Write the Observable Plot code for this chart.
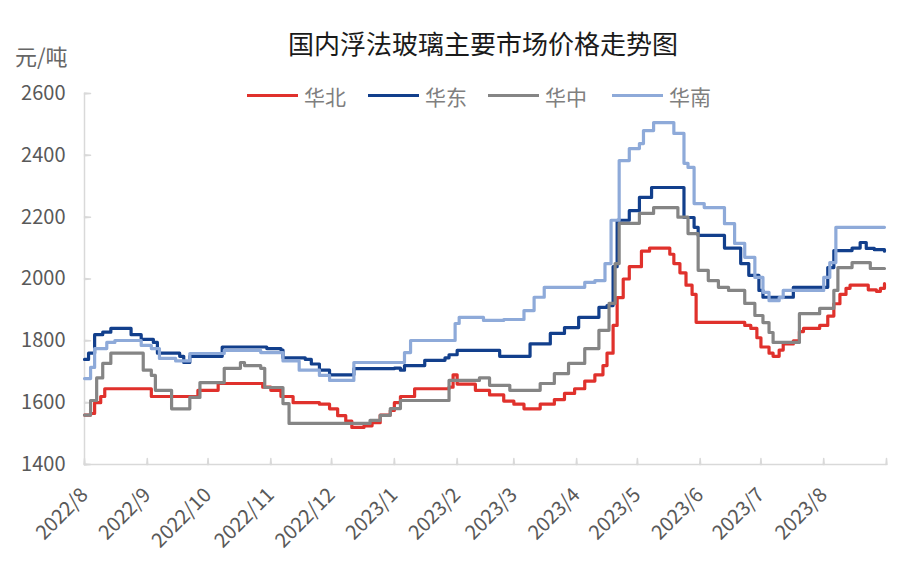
<!DOCTYPE html>
<html>
<head>
<meta charset="utf-8">
<script src="https://cdn.jsdelivr.net/npm/d3@7"></script>
<script src="https://cdn.jsdelivr.net/npm/@observablehq/plot@0.6"></script>
<style>
  html, body { margin: 0; padding: 0; background: #fff; }
  body { font-family: "Noto Sans CJK SC", "Noto Sans", sans-serif; }
  #wrap { position: relative; width: 915px; height: 567px; overflow: hidden; }
  #chart { position: absolute; left: 0; top: 0; }
  .abs { position: absolute; white-space: nowrap; line-height: 1; }
  #title { left: 288px; top: 30px; font-size: 26px; color: #1a1a1a; }
  #unit { left: 15px; top: 44px; font-size: 22px; color: #666; }
  .lg-line { position: absolute; height: 3px; top: 94px; }
  .lg-text { position: absolute; top: 86px; font-size: 21px; color: #7f7f7f; line-height: 1; }
</style>
</head>
<body>
<div id="wrap">
  <div id="chart"></div>
  <div id="title" class="abs">国内浮法玻璃主要市场价格走势图</div>
  <div id="unit" class="abs">元/吨</div>
  <div id="legend"></div>
</div>
<script>
// ---- data ----
const seriesNames = ["华北", "华东", "华中", "华南"];
const seriesColors = ["#e0312c", "#123f8c", "#858585", "#8eaad9"];

const yTicks = [1400, 1600, 1800, 2000, 2200, 2400, 2600];
const monthTicks = ["2022-08-01","2022-09-01","2022-10-01","2022-11-01","2022-12-01","2023-01-01",
  "2023-02-01","2023-03-01","2023-04-01","2023-05-01","2023-06-01","2023-07-01","2023-08-01","2023-09-01"];
const monthLabels = ["2022/8","2022/9","2022/10","2022/11","2022/12","2023/1",
  "2023/2","2023/3","2023/4","2023/5","2023/6","2023/7","2023/8",""];

const huabei = [
  ["2022-08-01",1560],["2022-08-04",1565],["2022-08-06",1600],["2022-08-09",1620],["2022-08-11",1645],
  ["2022-09-03",1620],["2022-09-26",1640],["2022-10-06",1662],["2022-10-28",1650],["2022-11-01",1640],
  ["2022-11-06",1620],["2022-11-12",1600],["2022-11-25",1595],["2022-11-30",1580],["2022-12-04",1558],
  ["2022-12-08",1540],["2022-12-11",1520],["2022-12-17",1525],["2022-12-21",1535],["2022-12-25",1560],
  ["2022-12-30",1575],["2023-01-01",1600],["2023-01-04",1620],["2023-01-11",1645],["2023-01-28",1650],
  ["2023-01-30",1690],["2023-02-01",1660],["2023-02-10",1640],["2023-02-17",1625],["2023-02-24",1605],
  ["2023-03-01",1595],["2023-03-06",1580],["2023-03-14",1595],["2023-03-21",1610],["2023-03-26",1630],
  ["2023-03-31",1645],["2023-04-05",1670],["2023-04-10",1690],["2023-04-14",1720],["2023-04-16",1760],
  ["2023-04-19",1850],["2023-04-21",1940],["2023-04-24",2000],["2023-04-27",2040],["2023-05-03",2090],
  ["2023-05-07",2100],["2023-05-17",2080],["2023-05-19",2050],["2023-05-22",2020],["2023-05-25",1980],
  ["2023-05-28",1950],["2023-05-30",1860],["2023-06-23",1850],["2023-06-26",1840],["2023-06-29",1810],
  ["2023-07-01",1780],["2023-07-05",1760],["2023-07-07",1750],["2023-07-10",1770],["2023-07-12",1790],
  ["2023-07-17",1800],["2023-07-20",1830],["2023-07-22",1840],["2023-07-30",1850],["2023-08-03",1880],
  ["2023-08-06",1920],["2023-08-09",1950],["2023-08-12",1970],["2023-08-14",1980],["2023-08-23",1965],
  ["2023-08-27",1960],["2023-08-29",1970],["2023-08-31",1985]
];

const huadong = [
  ["2022-08-01",1740],["2022-08-03",1760],["2022-08-06",1820],["2022-08-10",1828],["2022-08-14",1840],
  ["2022-08-24",1820],["2022-08-29",1805],["2022-09-04",1795],["2022-09-06",1760],["2022-09-17",1750],
  ["2022-09-19",1730],["2022-09-22",1750],["2022-10-08",1780],["2022-10-30",1775],["2022-11-06",1770],
  ["2022-11-07",1745],["2022-11-18",1740],["2022-11-21",1725],["2022-11-25",1705],["2022-11-30",1690],
  ["2022-12-12",1710],["2023-01-01",1712],["2023-01-04",1705],["2023-01-06",1720],["2023-01-16",1737],
  ["2023-01-26",1745],["2023-01-28",1755],["2023-02-01",1769],["2023-02-22",1750],["2023-03-09",1790],
  ["2023-03-19",1824],["2023-03-26",1843],["2023-04-02",1876],["2023-04-12",1908],["2023-04-16",1914],
  ["2023-04-19",2040],["2023-04-21",2190],["2023-04-27",2221],["2023-05-02",2264],["2023-05-08",2296],
  ["2023-05-24",2199],["2023-05-29",2167],["2023-05-31",2141],["2023-06-13",2100],["2023-06-21",2050],
  ["2023-06-25",2012],["2023-06-30",1963],["2023-07-02",1941],["2023-07-17",1973],["2023-08-03",2037],
  ["2023-08-06",2092],["2023-08-15",2100],["2023-08-19",2118],["2023-08-22",2099],["2023-08-26",2095],
  ["2023-08-31",2090]
];

const huazhong = [
  ["2022-08-01",1560],["2022-08-04",1607],["2022-08-07",1680],["2022-08-10",1727],["2022-08-14",1760],
  ["2022-08-30",1705],["2022-09-03",1688],["2022-09-05",1640],["2022-09-13",1580],["2022-09-22",1617],
  ["2022-09-27",1665],["2022-10-09",1711],["2022-10-17",1730],["2022-10-19",1720],["2022-10-27",1711],
  ["2022-10-29",1649],["2022-11-07",1597],["2022-11-10",1533],["2022-12-08",1533],["2022-12-20",1543],
  ["2022-12-25",1559],["2022-12-30",1581],["2023-01-04",1607],["2023-01-28",1672],["2023-02-12",1680],
  ["2023-02-17",1656],["2023-02-27",1640],["2023-03-14",1662],["2023-03-21",1694],["2023-03-28",1727],
  ["2023-04-05",1775],["2023-04-12",1834],["2023-04-17",1921],["2023-04-20",2050],["2023-04-22",2180],
  ["2023-05-02",2212],["2023-05-09",2231],["2023-05-21",2200],["2023-05-26",2147],["2023-05-31",2028],
  ["2023-06-05",1995],["2023-06-10",1973],["2023-06-15",1963],["2023-06-23",1921],["2023-06-28",1882],
  ["2023-07-02",1859],["2023-07-05",1827],["2023-07-07",1795],["2023-07-20",1888],["2023-07-30",1905],
  ["2023-08-06",1963],["2023-08-08",2037],["2023-08-15",2053],["2023-08-24",2034],["2023-08-31",2034]
];

const huanan = [
  ["2022-08-01",1678],["2022-08-04",1714],["2022-08-06",1775],["2022-08-12",1795],["2022-08-16",1801],
  ["2022-08-29",1785],["2022-09-03",1775],["2022-09-07",1743],["2022-09-15",1735],["2022-09-22",1759],
  ["2022-10-09",1769],["2022-10-27",1762],["2022-11-07",1735],["2022-11-15",1705],["2022-11-25",1688],
  ["2022-11-30",1672],["2022-12-12",1730],["2023-01-06",1762],["2023-01-09",1801],["2023-01-31",1856],
  ["2023-02-02",1876],["2023-02-14",1866],["2023-02-24",1869],["2023-03-06",1898],["2023-03-11",1941],
  ["2023-03-16",1973],["2023-04-05",1989],["2023-04-10",1995],["2023-04-15",2050],["2023-04-18",2190],
  ["2023-04-22",2383],["2023-04-27",2422],["2023-05-02",2438],["2023-05-04",2480],["2023-05-09",2506],
  ["2023-05-19",2471],["2023-05-24",2374],["2023-05-26",2361],["2023-05-29",2244],["2023-06-03",2231],
  ["2023-06-13",2179],["2023-06-18",2115],["2023-06-23",2070],["2023-06-28",2005],["2023-07-02",1957],
  ["2023-07-05",1930],["2023-07-10",1940],["2023-07-12",1963],["2023-08-01",2005],["2023-08-04",2053],
  ["2023-08-07",2167],["2023-08-31",2167]
];

const seriesData = [huabei, huadong, huazhong, huanan];

// ---- build ----
const data = seriesNames.flatMap((name, i) =>
  seriesData[i].map(([d, v]) => ({series: name, date: new Date(d), value: v})));
const tickDates = monthTicks.map(d => new Date(d));
const labelOf = new Map(monthTicks.map((d, i) => [+new Date(d), monthLabels[i]]));
const x0 = tickDates[0], x1 = tickDates[tickDates.length - 1];
const axisColor = "#d9d9d9";
const labelColor = "#595959";

const chart = Plot.plot({
  width: 915,
  height: 567,
  marginLeft: 84,
  marginRight: 29,
  marginTop: 93,
  marginBottom: 103,
  style: {fontFamily: '"Noto Sans CJK SC", "Noto Sans", sans-serif', background: "transparent", overflow: "visible"},
  x: {type: "utc", domain: [x0, x1]},
  y: {domain: [yTicks[0], yTicks[yTicks.length - 1]]},
  color: {domain: seriesNames, range: seriesColors},
  marks: [
    Plot.ruleY([yTicks[0]], {stroke: axisColor, strokeWidth: 1.5}),
    Plot.ruleX([x0], {stroke: axisColor, strokeWidth: 1.5}),
    Plot.vector(yTicks, {x: x0, y: d => d, rotate: 90, length: 6, anchor: "start", stroke: axisColor, strokeWidth: 1.5, shape: "spike", r: 0.5}),
    Plot.vector(tickDates, {x: d => d, y: yTicks[0], rotate: 0, length: 6, anchor: "start", stroke: axisColor, strokeWidth: 1.5, shape: "spike", r: 0.5}),
    Plot.axisY({ticks: yTicks, tickSize: 0, tickPadding: 19, tickFormat: d => String(d), fontSize: 20, color: labelColor, label: null}),
    Plot.axisX({ticks: tickDates.slice(0, -1), tickSize: 0, tickPadding: 27, tickRotate: -45,
      tickFormat: d => labelOf.get(+d), fontSize: 20, color: labelColor, label: null}),
    Plot.line(data, {x: "date", y: "value", z: "series", stroke: "series", strokeWidth: 3.2, curve: "step-after"})
  ]
});
document.getElementById("chart").appendChild(chart);

// legend
const legend = document.getElementById("legend");
const lgLineX = [247, 368, 488, 612];
seriesNames.forEach((name, i) => {
  const line = document.createElement("div");
  line.className = "lg-line";
  line.style.left = lgLineX[i] + "px";
  line.style.width = "51px";
  line.style.background = seriesColors[i];
  legend.appendChild(line);
  const t = document.createElement("div");
  t.className = "lg-text";
  t.style.left = (lgLineX[i] + 57) + "px";
  t.textContent = name;
  legend.appendChild(t);
});
</script>
</body>
</html>
